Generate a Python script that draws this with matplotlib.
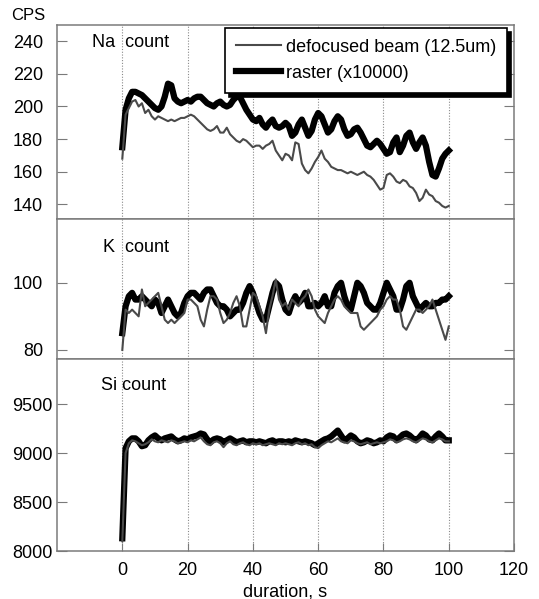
import matplotlib
matplotlib.use("Agg")
import matplotlib.pyplot as plt
import numpy as np

plt.rcParams['font.family'] = ['Liberation Sans', 'DejaVu Sans']

# duration, s (one reading per second)
duration = np.arange(101)

na_beam = [168, 195, 199, 203, 204, 200, 202, 196, 198, 194, 192, 194, 193, 192, 191, 192, 191, 192, 193, 193,
           194, 195, 194, 192, 190, 188, 186, 185, 186, 188, 184, 184, 187, 183, 181, 179, 178, 180, 179, 177,
           175, 176, 176, 174, 176, 177, 179, 173, 170, 167, 171, 170, 167, 178, 177, 165, 161, 159, 162, 166,
           169, 173, 168, 166, 163, 162, 161, 161, 160, 159, 160, 159, 158, 159, 160, 158, 157, 155, 152, 149,
           150, 158, 159, 157, 154, 153, 155, 154, 151, 150, 147, 142, 144, 149, 146, 145, 142, 141, 139, 138, 139]
na_raster = [175, 198, 205, 209, 209, 208, 207, 205, 203, 201, 199, 198, 200, 206, 214, 213, 205, 203, 202, 203,
             204, 203, 205, 206, 206, 204, 202, 201, 200, 202, 203, 201, 200, 201, 204, 206, 206, 202, 198, 195,
             192, 191, 193, 189, 187, 190, 192, 188, 187, 188, 190, 188, 182, 184, 189, 192, 187, 182, 185, 192,
             196, 194, 189, 184, 186, 191, 194, 192, 186, 182, 183, 186, 187, 184, 180, 176, 175, 177, 179, 177,
             174, 171, 172, 178, 181, 172, 176, 182, 184, 178, 174, 178, 181, 176, 166, 158, 157, 162, 168, 171, 173]

k_beam = [80, 92, 91, 92, 91, 90, 98, 93, 94, 95, 96, 97, 93, 89, 88, 89, 88, 89, 90, 91,
          95, 95, 94, 93, 89, 87, 92, 96, 96, 95, 91, 88, 89, 91, 94, 96, 93, 87, 87, 92,
          97, 96, 93, 90, 85, 92, 96, 101, 95, 93, 94, 92, 95, 94, 93, 95, 96, 98, 96, 92,
          90, 89, 88, 91, 93, 95, 96, 95, 93, 92, 91, 91, 91, 87, 86, 87, 88, 89, 90, 92,
          93, 95, 96, 95, 95, 92, 87, 86, 88, 90, 92, 92, 91, 92, 93, 95, 92, 89, 86, 83, 87]
k_raster = [85, 93, 96, 97, 95, 95, 96, 95, 94, 93, 95, 94, 91, 93, 95, 93, 91, 90, 91, 94,
            96, 97, 97, 96, 95, 97, 98, 98, 96, 94, 93, 93, 92, 90, 91, 92, 92, 94, 97, 99,
            97, 94, 91, 89, 89, 93, 97, 100, 99, 95, 92, 91, 94, 96, 94, 95, 97, 93, 93, 94,
            93, 94, 96, 93, 93, 97, 99, 100, 96, 93, 92, 96, 100, 99, 97, 94, 93, 92, 92, 94,
            97, 100, 98, 96, 92, 92, 95, 99, 100, 96, 94, 92, 93, 94, 93, 93, 94, 94, 95, 95, 96]

si_beam = [8100, 9000, 9100, 9130, 9120, 9100, 9080, 9090, 9110, 9140, 9120, 9110, 9130, 9120, 9110, 9130, 9120,
           9100, 9110, 9120, 9110, 9130, 9120, 9140, 9160, 9120, 9090, 9080, 9110, 9120, 9100, 9060, 9100, 9120,
           9090, 9080, 9100, 9110, 9090, 9080, 9100, 9090, 9100, 9080, 9090, 9100, 9090, 9080, 9100, 9090, 9100,
           9090, 9080, 9100, 9110, 9090, 9100, 9080, 9090, 9060, 9050, 9080, 9100, 9120, 9110, 9130, 9150, 9120,
           9110, 9100, 9130, 9120, 9100, 9090, 9100, 9110, 9090, 9100, 9110, 9100, 9110, 9120, 9140, 9130, 9110,
           9120, 9140, 9150, 9140, 9120, 9110, 9130, 9150, 9140, 9120, 9110, 9130, 9150, 9140, 9120, 9120]
si_raster = [8130, 9050, 9120, 9150, 9150, 9120, 9070, 9080, 9130, 9160, 9180, 9150, 9130, 9150, 9160, 9170, 9140,
             9120, 9130, 9150, 9140, 9160, 9170, 9180, 9200, 9190, 9140, 9110, 9140, 9150, 9140, 9110, 9130, 9150,
             9130, 9110, 9120, 9130, 9110, 9120, 9120, 9110, 9120, 9110, 9100, 9120, 9130, 9110, 9120, 9120, 9110,
             9120, 9110, 9130, 9120, 9110, 9120, 9110, 9100, 9080, 9100, 9120, 9140, 9150, 9170, 9200, 9230, 9180,
             9130, 9150, 9180, 9160, 9120, 9100, 9110, 9130, 9120, 9100, 9110, 9130, 9120, 9160, 9180, 9170, 9130,
             9160, 9190, 9200, 9180, 9150, 9130, 9160, 9200, 9180, 9140, 9130, 9170, 9200, 9170, 9130, 9130]

na_ticks = [140, 160, 180, 200, 220, 240]
k_ticks = [80, 100]
si_ticks = [8000, 8500, 9000, 9500]
x_ticks = [0, 20, 40, 60, 80, 100, 120]

fig = plt.figure(figsize=(5.39, 5.99), dpi=100)
left, width = 0.1058, 0.8479
ax_na = fig.add_axes([left, 0.6344, width, 0.3239])
ax_k = fig.add_axes([left, 0.4007, width, 0.2337])
ax_si = fig.add_axes([left, 0.0801, width, 0.3205])

# axes, beam, raster, yticks, ylim, label, label x, label y, tick pad
panels = [
    (ax_na, na_beam, na_raster, na_ticks, (131, 250), "Na  count", -9.2, 239, 10),
    (ax_k, k_beam, k_raster, k_ticks, (77.3, 119), "K  count", -5.8, 110.4, 10),
    (ax_si, si_beam, si_raster, si_ticks, (8000, 9960), "Si count", -6.4, 9694, 3),
]

spine_col = '#7a7a7a'
for ax, beam, raster, yt, ylim, label, lx, ly, pad in panels:
    for g in x_ticks[:-1]:
        ax.axvline(g, color='#8a8a8a', lw=0.8, ls=(0, (1, 1.5)), zorder=1)
    ax.plot(duration, raster, color='black', lw=4.5, solid_joinstyle='round', zorder=3,
            label='raster (x10000)')
    ax.plot(duration, beam, color='#4a4a4a', lw=1.5, zorder=4,
            label='defocused beam (12.5um)')
    ax.set_xlim(-20, 120)
    ax.set_ylim(*ylim)
    ax.set_yticks(yt)
    ax.tick_params(axis='y', direction='in', length=7, color=spine_col, labelsize=13,
                   right=True, pad=pad)
    ax.text(lx, ly, label, fontsize=13, va='center', ha='left')
    for s in ax.spines.values():
        s.set_color(spine_col)
        s.set_linewidth(1.1)
    if ax is not ax_si:
        ax.set_xticks([])

ax_si.set_xticks(x_ticks)
ax_si.tick_params(axis='x', direction='in', length=6, color=spine_col, labelsize=13, pad=8)
ax_si.set_xlabel('duration, s', fontsize=13, labelpad=3)

leg = ax_na.legend(handles=[ax_na.lines[-1], ax_na.lines[-2]], loc='upper right',
                   bbox_to_anchor=(0.985, 0.985), borderaxespad=0, fontsize=13,
                   fancybox=False, edgecolor='black', framealpha=1,
                   shadow={'color': 'black', 'alpha': 1, 'ox': 3, 'oy': -3},
                   handlelength=2.5, handletextpad=0.3, labelspacing=0.5, borderpad=0.6)
leg.get_frame().set_linewidth(1.2)

fig.text(28 / 539, 1 - 15 / 599, 'CPS', fontsize=12, ha='center', va='center')

fig.savefig('out.png', dpi=100)
